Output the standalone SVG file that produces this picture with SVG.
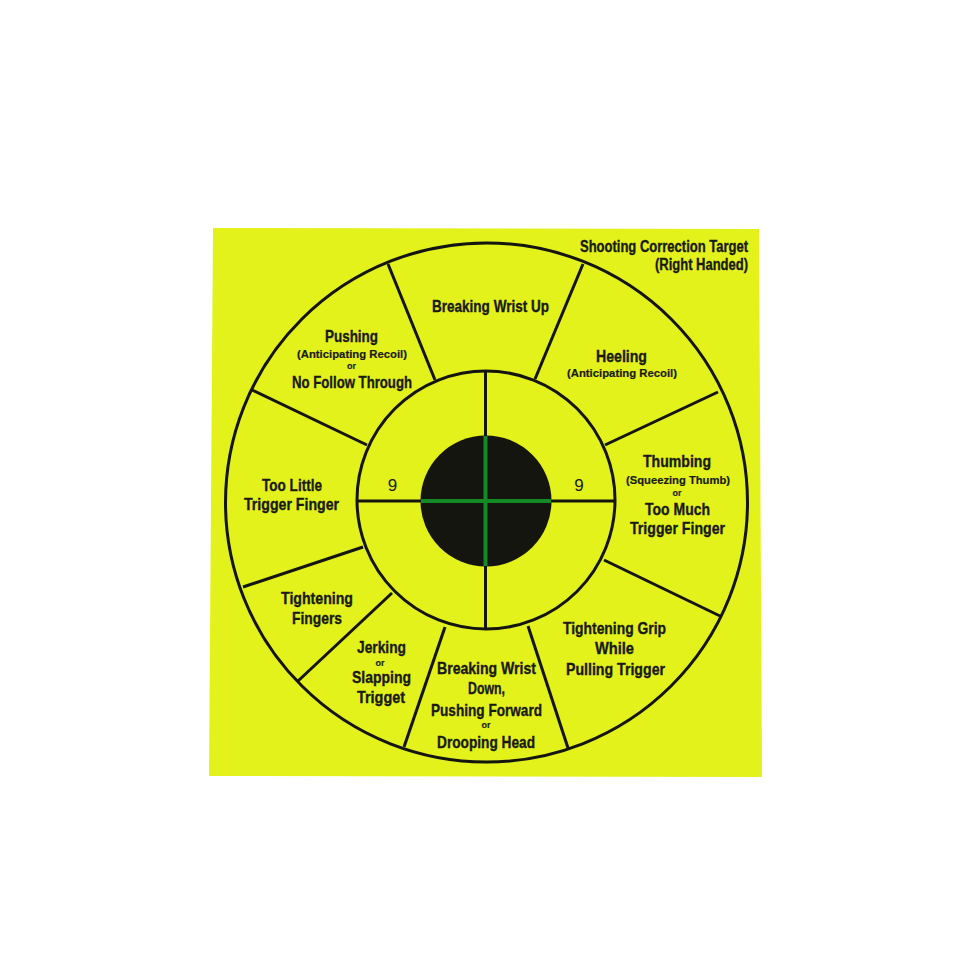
<svg xmlns="http://www.w3.org/2000/svg" width="960" height="960" viewBox="0 0 960 960">
<style>
.t{font-family:"Liberation Sans Narrow","Liberation Sans",Arial,sans-serif;font-weight:bold;fill:#1a1a12;stroke:#1a1a12;stroke-width:0.35;text-anchor:middle}
.m{font-size:16.5px}
.s{font-size:11.5px;stroke-width:0.2}
.o{font-size:9px;stroke-width:0.15}
.n{font-family:"Liberation Sans",Arial,sans-serif;font-size:17px;fill:#1a1a12;text-anchor:middle}
.ln{stroke:#151510;stroke-width:3;fill:none;stroke-linecap:butt}
</style>
<rect width="960" height="960" fill="#ffffff"/>
<polygon points="213,228 759,229 762,777 209,776" fill="#e3f21a"/>
<g id="rings">
<ellipse cx="486.5" cy="502.5" rx="261" ry="259.5" class="ln"/>
<circle cx="486" cy="500" r="129" class="ln"/>
<circle cx="486" cy="501" r="65.5" fill="#151510"/>
</g>
<g id="connectors">
<line x1="388" y1="264" x2="435" y2="380" class="ln"/>
<line x1="583" y1="264" x2="535" y2="379" class="ln"/>
<line x1="718" y1="392" x2="605" y2="445" class="ln"/>
<line x1="720" y1="616" x2="604" y2="560" class="ln"/>
<line x1="568" y1="748" x2="528" y2="626" class="ln"/>
<line x1="404" y1="747" x2="445" y2="627" class="ln"/>
<line x1="298" y1="681" x2="392" y2="593" class="ln"/>
<line x1="243" y1="587" x2="363" y2="547" class="ln"/>
<line x1="252" y1="390" x2="367" y2="445" class="ln"/>
<line x1="485.5" y1="371" x2="485.5" y2="437" class="ln"/>
<line x1="485.5" y1="565" x2="485.5" y2="629" class="ln"/>
<line x1="357" y1="501" x2="422" y2="501" class="ln"/>
<line x1="550" y1="501" x2="615" y2="501" class="ln"/>
<line x1="485.5" y1="436" x2="485.5" y2="566" stroke="#138a26" stroke-width="4"/>
<line x1="421" y1="501" x2="551" y2="501" stroke="#138a26" stroke-width="4"/>
</g>
<g id="title">
<text class="t" style="font-size:16px;text-anchor:end" x="748" y="252" textLength="168" lengthAdjust="spacingAndGlyphs">Shooting Correction Target</text>
<text class="t" style="font-size:16px;text-anchor:end" x="748" y="270" textLength="93" lengthAdjust="spacingAndGlyphs">(Right Handed)</text>
</g>
<g id="breaking-wrist-up">
<text class="t m" x="490.5" y="312" textLength="117" lengthAdjust="spacingAndGlyphs">Breaking Wrist Up</text>
</g>
<g id="heeling">
<text class="t m" x="621.5" y="362" textLength="51" lengthAdjust="spacingAndGlyphs">Heeling</text>
<text class="t s" x="622" y="377" textLength="110" lengthAdjust="spacingAndGlyphs">(Anticipating Recoil)</text>
</g>
<g id="thumbing">
<text class="t m" x="677" y="467" textLength="68" lengthAdjust="spacingAndGlyphs">Thumbing</text>
<text class="t s" x="678" y="484" textLength="104" lengthAdjust="spacingAndGlyphs">(Squeezing Thumb)</text>
<text class="t o" x="677" y="496">or</text>
<text class="t m" x="677.5" y="515" textLength="65" lengthAdjust="spacingAndGlyphs">Too Much</text>
<text class="t m" x="677.5" y="534" textLength="95" lengthAdjust="spacingAndGlyphs">Trigger Finger</text>
</g>
<g id="tightening-grip">
<text class="t m" x="614.5" y="634" textLength="103" lengthAdjust="spacingAndGlyphs">Tightening Grip</text>
<text class="t m" x="614.5" y="654" textLength="39" lengthAdjust="spacingAndGlyphs">While</text>
<text class="t m" x="615.5" y="675" textLength="99" lengthAdjust="spacingAndGlyphs">Pulling Trigger</text>
</g>
<g id="breaking-wrist-down">
<text class="t m" x="486.5" y="674" textLength="99" lengthAdjust="spacingAndGlyphs">Breaking Wrist</text>
<text class="t m" x="486.5" y="694" textLength="37" lengthAdjust="spacingAndGlyphs">Down,</text>
<text class="t m" x="486.5" y="716" textLength="111" lengthAdjust="spacingAndGlyphs">Pushing Forward</text>
<text class="t o" x="486" y="728">or</text>
<text class="t m" x="486" y="748" textLength="98" lengthAdjust="spacingAndGlyphs">Drooping Head</text>
</g>
<g id="jerking">
<text class="t m" x="381.5" y="653" textLength="49" lengthAdjust="spacingAndGlyphs">Jerking</text>
<text class="t o" x="380" y="666">or</text>
<text class="t m" x="381.5" y="683" textLength="59" lengthAdjust="spacingAndGlyphs">Slapping</text>
<text class="t m" x="381" y="703" textLength="48" lengthAdjust="spacingAndGlyphs">Trigget</text>
</g>
<g id="tightening-fingers">
<text class="t m" x="317" y="604" textLength="72" lengthAdjust="spacingAndGlyphs">Tightening</text>
<text class="t m" x="317" y="624" textLength="50" lengthAdjust="spacingAndGlyphs">Fingers</text>
</g>
<g id="too-little">
<text class="t m" x="292" y="491" textLength="60" lengthAdjust="spacingAndGlyphs">Too Little</text>
<text class="t m" x="291.5" y="510" textLength="95" lengthAdjust="spacingAndGlyphs">Trigger Finger</text>
</g>
<g id="pushing">
<text class="t m" x="351.5" y="342" textLength="53" lengthAdjust="spacingAndGlyphs">Pushing</text>
<text class="t s" x="352" y="358" textLength="110" lengthAdjust="spacingAndGlyphs">(Anticipating Recoil)</text>
<text class="t o" x="351.5" y="369">or</text>
<text class="t m" x="352" y="388" textLength="120" lengthAdjust="spacingAndGlyphs">No Follow Through</text>
</g>
<g id="nine-left">
<text class="n" x="392.5" y="491">9</text>
</g>
<g id="nine-right">
<text class="n" x="579" y="491">9</text>
</g>
</svg>
